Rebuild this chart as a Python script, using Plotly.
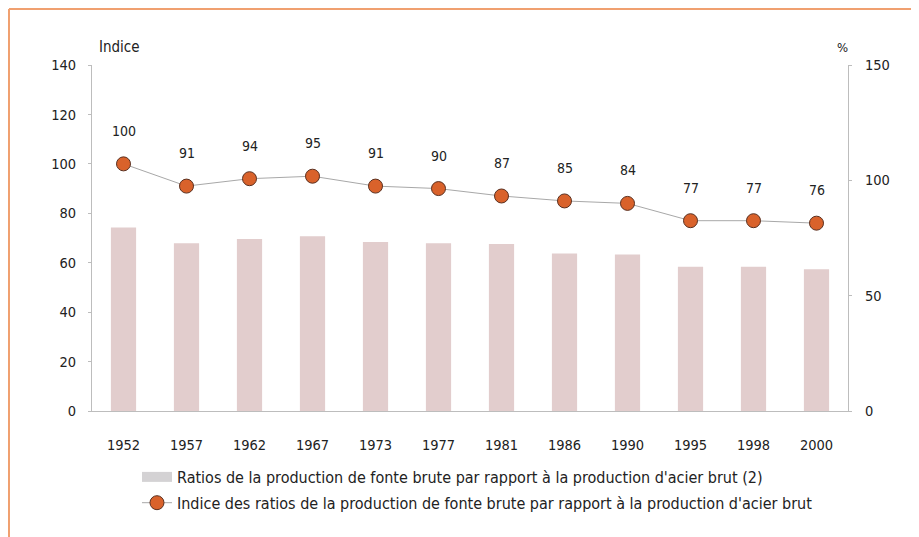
import plotly.graph_objects as go

years = ["1952", "1957", "1962", "1967", "1973", "1977", "1981", "1986", "1990", "1995", "1998", "2000"]
ratio_pct = [79.5, 72.7, 74.6, 75.8, 73.3, 72.7, 72.4, 68.3, 67.9, 62.5, 62.5, 61.4]
indice = [100, 91, 94, 95, 91, 90, 87, 85, 84, 77, 77, 76]

bar_name = "Ratios de la production de fonte brute par rapport à la production d'acier brut (2)"
line_name = "Indice des ratios de la production de fonte brute par rapport à la production d'acier brut"

FONT = "DejaVu Sans Condensed, sans-serif"
TXT = "#222222"
AX = "#bdbdbd"

fig = go.Figure()
fig.add_trace(go.Bar(
    x=years, y=ratio_pct, name=bar_name, yaxis="y2",
    marker=dict(color="#e2cdcd", line=dict(width=0)),
    width=0.4, showlegend=False,
))
# legend proxy for the bar series (wide grey swatch, as in the original legend)
fig.add_trace(go.Scatter(
    x=[None], y=[None], name=bar_name, yaxis="y2", mode="lines",
    line=dict(color="#d4d2d4", width=10), legendgroup="a",
))
fig.add_trace(go.Scatter(
    x=years, y=indice, name=line_name, yaxis="y", mode="lines+markers",
    line=dict(color="#a8a8a8", width=1),
    marker=dict(size=14, color="#d9622b", line=dict(color="#5a3020", width=1)),
    legendgroup="b",
))

annotations = []
for i, v in enumerate(indice):
    annotations.append(dict(x=i, y=v, xref="x", yref="y", text=str(v), showarrow=False,
                            yshift=33, font=dict(family=FONT, size=14, color=TXT)))
annotations.append(dict(x=0.006, y=1.052, xref="paper", yref="paper", text="Indice", showarrow=False,
                        xanchor="left", yanchor="middle", font=dict(family=FONT, size=15, color=TXT)))
annotations.append(dict(x=0.993, y=1.052, xref="paper", yref="paper", text="%", showarrow=False,
                        xanchor="center", yanchor="middle", font=dict(family=FONT, size=13, color=TXT)))

fig.update_layout(
    width=919, height=537, autosize=False,
    margin=dict(l=84, r=79, t=57, b=134),
    paper_bgcolor="white", plot_bgcolor="white",
    font=dict(family=FONT, size=14, color=TXT),
    showlegend=True,
    legend=dict(x=0.0595, y=-0.1416, xanchor="left", yanchor="top", traceorder="grouped",
                tracegroupgap=2, font=dict(family=FONT, size=16, color=TXT), bgcolor="rgba(0,0,0,0)"),
    xaxis=dict(type="category", range=[-0.5, 11.5], showgrid=False, zeroline=False,
               showline=True, linecolor=AX, linewidth=1, ticks="", ticklabelstandoff=21,
               tickfont=dict(family=FONT, size=14.5, color=TXT)),
    yaxis=dict(range=[0, 140], dtick=20, showgrid=False, zeroline=False, showline=True,
               linecolor=AX, linewidth=1, ticks="outside", ticklen=3, tickcolor=AX,
               ticklabelstandoff=9, tickfont=dict(family=FONT, size=14.5, color=TXT)),
    yaxis2=dict(range=[0, 150], dtick=50, overlaying="y", side="right", showgrid=False,
                zeroline=False, showline=True, linecolor=AX, linewidth=1, ticks="outside",
                ticklen=3, tickcolor=AX, ticklabelstandoff=10,
                tickfont=dict(family=FONT, size=14.5, color=TXT)),
    annotations=annotations,
    shapes=[
        dict(type="line", xref="paper", yref="paper", x0=-0.1098, x1=1.2, y0=1.1618, y1=1.1618,
             line=dict(color="#f0a070", width=2)),
        dict(type="line", xref="paper", yref="paper", x0=-0.1098, x1=-0.1098, y0=-0.4, y1=1.1618,
             line=dict(color="#f0a070", width=2)),
    ],
)

fig.write_html("out.html")
